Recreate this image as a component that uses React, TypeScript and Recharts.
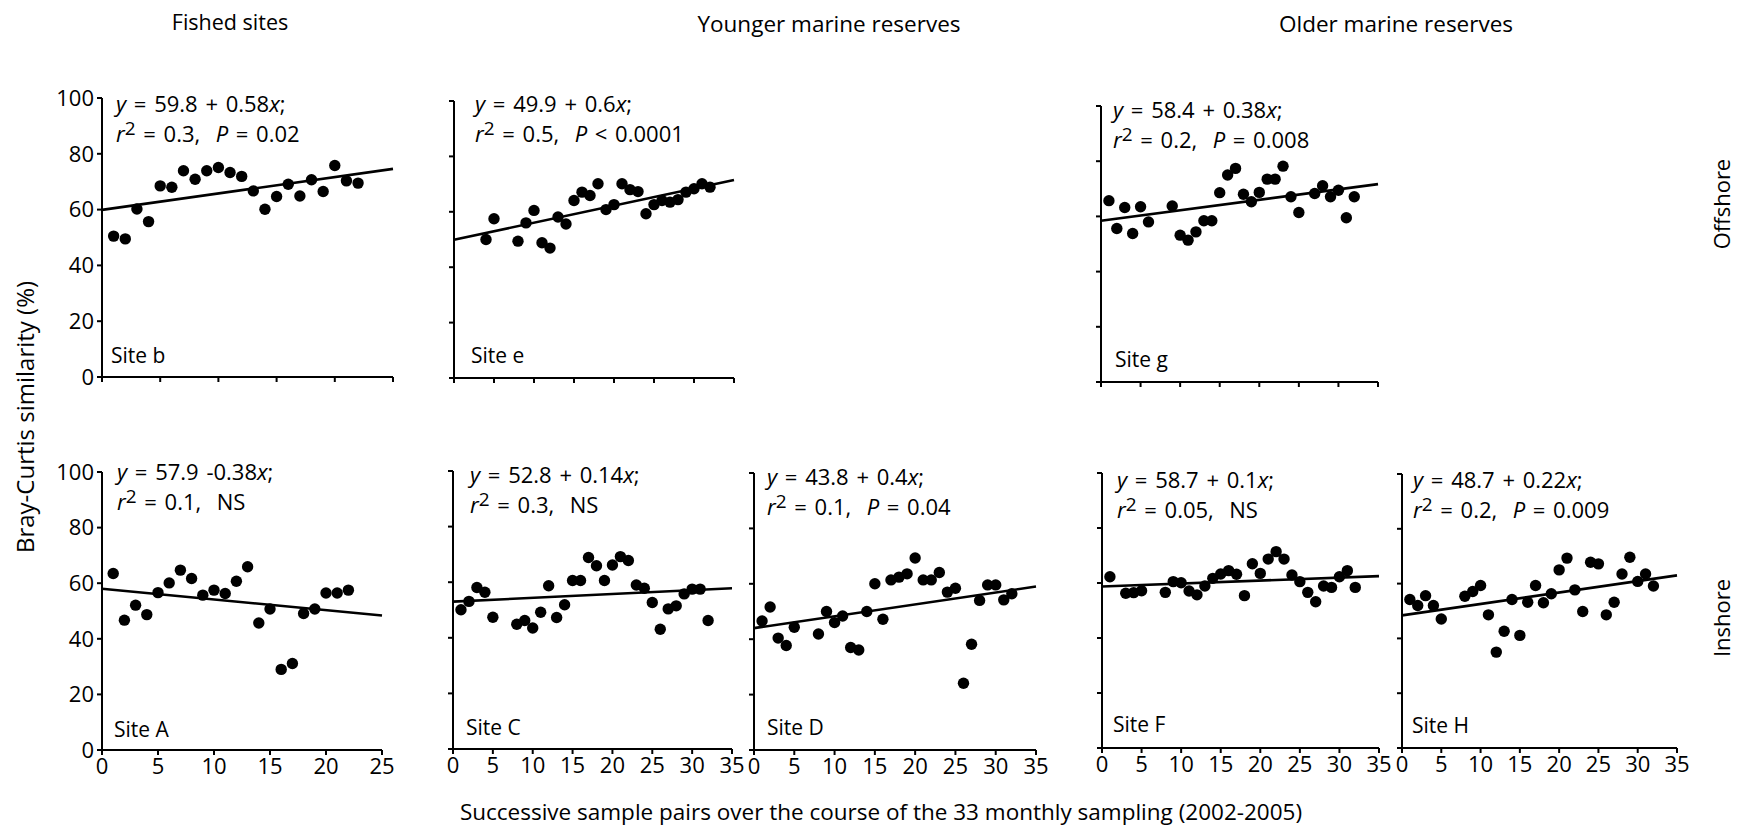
import React from "react";
import { ScatterChart, Scatter, XAxis, YAxis, ReferenceLine } from "recharts";

const FONT = "'Open Sans', 'Noto Sans', sans-serif";

// Offshore sites
const siteBX = [1, 2, 3, 4, 5, 6, 7, 8, 9, 10, 11, 12, 13, 14, 15, 16, 17, 18, 19, 20, 21, 22];
const siteBY = [50.5, 49.5, 60.2, 55.7, 68.5, 68.0, 73.9, 70.9, 73.9, 75.1, 73.3, 71.9, 66.7, 60.1, 64.7, 69.1, 64.9, 70.7, 66.5, 75.8, 70.3, 69.5];
const siteBFit = [59.9, 74.6];

const siteEX = [4, 5, 8, 9, 10, 11, 12, 13, 14, 15, 16, 17, 18, 19, 20, 21, 22, 23, 24, 25, 26, 27, 28, 29, 30, 31, 32];
const siteEY = [50.0, 57.5, 49.4, 56.0, 60.5, 48.8, 46.9, 58.1, 55.6, 64.1, 67.1, 65.9, 70.1, 60.8, 62.6, 70.1, 68.0, 67.3, 59.3, 62.6, 64.1, 63.5, 64.4, 67.1, 68.3, 70.1, 68.9];
const siteEFit = [49.9, 71.5];

const siteGX = [1, 2, 3, 4, 5, 6, 9, 10, 11, 12, 13, 14, 15, 16, 17, 18, 19, 20, 21, 22, 23, 24, 25, 27, 28, 29, 30, 31, 32];
const siteGY = [65.7, 55.6, 63.2, 53.8, 63.5, 58.0, 63.8, 53.2, 51.4, 54.4, 58.4, 58.4, 68.6, 75.0, 77.4, 68.0, 65.3, 68.7, 73.5, 73.5, 78.2, 67.1, 61.4, 68.3, 71.1, 67.1, 69.5, 59.5, 67.1];
const siteGFit = [58.4, 71.7];

// Inshore sites
const siteAX = [1, 2, 3, 4, 5, 6, 7, 8, 9, 10, 11, 12, 13, 14, 15, 16, 17, 18, 19, 20, 21, 22];
const siteAY = [63.5, 46.7, 52.1, 48.7, 56.6, 60.1, 64.7, 61.7, 55.7, 57.5, 56.3, 60.7, 65.9, 45.7, 50.7, 29.0, 31.1, 49.1, 50.7, 56.5, 56.5, 57.5];
const siteAFit = [58.0, 48.4];

const siteCX = [1, 2, 3, 4, 5, 8, 9, 10, 11, 12, 13, 14, 15, 16, 17, 18, 19, 20, 21, 22, 23, 24, 25, 26, 27, 28, 29, 30, 31, 32];
const siteCY = [50.1, 53.1, 58.1, 56.4, 47.4, 44.9, 46.2, 43.5, 49.2, 58.7, 47.3, 51.9, 60.6, 60.6, 68.9, 65.9, 60.6, 66.2, 69.2, 67.8, 59.0, 57.8, 52.7, 43.1, 50.4, 51.5, 55.8, 57.5, 57.5, 46.2];
const siteCFit = [53.0, 57.8];

const siteDX = [1, 2, 3, 4, 5, 8, 9, 10, 11, 12, 13, 14, 15, 16, 17, 18, 19, 20, 21, 22, 23, 24, 25, 26, 27, 28, 29, 30, 31, 32];
const siteDY = [46.6, 51.6, 40.4, 37.7, 44.3, 41.9, 50.0, 46.0, 48.4, 37.0, 36.1, 50.0, 60.0, 47.2, 61.4, 62.4, 63.6, 69.3, 61.4, 61.4, 64.1, 57.0, 58.4, 24.1, 38.2, 54.0, 59.6, 59.6, 54.2, 56.4];
const siteDFit = [44.0, 59.0];

const siteFX = [1, 3, 4, 5, 8, 9, 10, 11, 12, 13, 14, 15, 16, 17, 18, 19, 20, 21, 22, 23, 24, 25, 26, 27, 28, 29, 30, 31, 32];
const siteFY = [62.3, 56.3, 56.5, 57.2, 56.6, 60.5, 60.1, 57.1, 55.7, 58.9, 61.7, 63.3, 64.5, 63.2, 55.4, 67.0, 63.5, 68.7, 71.4, 68.7, 62.9, 60.5, 56.6, 53.2, 58.9, 58.4, 62.3, 64.5, 58.4];
const siteFFit = [58.7, 62.5];

const siteHX = [1, 2, 3, 4, 5, 8, 9, 10, 11, 12, 13, 14, 15, 16, 17, 18, 19, 20, 21, 22, 23, 24, 25, 26, 27, 28, 29, 30, 31, 32];
const siteHY = [54.2, 52.0, 55.6, 52.0, 47.1, 55.4, 57.1, 59.3, 48.6, 35.0, 42.6, 54.2, 41.1, 53.2, 59.3, 53.0, 56.3, 65.0, 69.3, 57.7, 49.8, 67.8, 67.2, 48.6, 53.2, 63.5, 69.6, 60.8, 63.5, 59.1];
const siteHFit = [48.4, 63.0];

const yTicks = [0, 20, 40, 60, 80, 100];
const xTicks25 = [0, 5, 10, 15, 20, 25];
const xTicks35 = [0, 5, 10, 15, 20, 25, 30, 35];

const titles = ["Fished sites", "Younger marine reserves", "Older marine reserves"];
const rowLabels = ["Offshore", "Inshore"];
const yTitle = "Bray-Curtis similarity (%)";
const xTitle = "Successive sample pairs over the course of the 33 monthly sampling (2002-2005)";

type Panel = {
  name: string;
  xs: number[];
  ys: number[];
  fit: number[];
  eq: string;
  r2: string;
  p: string | null;
  xTicks: number[];
  yLabels: boolean;
  xLabels: boolean;
  // plot-area placement
  x0: number;
  top: number;
  w: number;
  h: number;
  eqX: number;
  eqY: number;
  siteX: number;
  siteY: number;
};

const panels: Panel[] = [
  { name: "Site b", xs: siteBX, ys: siteBY, fit: siteBFit, eq: "59.8 + 0.58", r2: "0.3", p: "= 0.02", xTicks: xTicks25, yLabels: true, xLabels: false,
    x0: 102, top: 98, w: 291, h: 279, eqX: 116, eqY: 112, siteX: 111, siteY: 363 },
  { name: "Site e", xs: siteEX, ys: siteEY, fit: siteEFit, eq: "49.9 + 0.6", r2: "0.5", p: "< 0.0001", xTicks: xTicks35, yLabels: false, xLabels: false,
    x0: 454, top: 101, w: 280, h: 277, eqX: 475, eqY: 112, siteX: 471, siteY: 363 },
  { name: "Site g", xs: siteGX, ys: siteGY, fit: siteGFit, eq: "58.4 + 0.38", r2: "0.2", p: "= 0.008", xTicks: xTicks35, yLabels: false, xLabels: false,
    x0: 1101, top: 106, w: 277, h: 276, eqX: 1113, eqY: 118, siteX: 1115, siteY: 367 },
  { name: "Site A", xs: siteAX, ys: siteAY, fit: siteAFit, eq: "57.9 -0.38", r2: "0.1", p: null, xTicks: xTicks25, yLabels: true, xLabels: true,
    x0: 102, top: 472, w: 280, h: 278, eqX: 117, eqY: 480, siteX: 114, siteY: 737 },
  { name: "Site C", xs: siteCX, ys: siteCY, fit: siteCFit, eq: "52.8 + 0.14", r2: "0.3", p: null, xTicks: xTicks35, yLabels: false, xLabels: true,
    x0: 453, top: 471, w: 279, h: 278, eqX: 470, eqY: 483, siteX: 466, siteY: 735 },
  { name: "Site D", xs: siteDX, ys: siteDY, fit: siteDFit, eq: "43.8 + 0.4", r2: "0.1", p: "= 0.04", xTicks: xTicks35, yLabels: false, xLabels: true,
    x0: 754, top: 473, w: 282, h: 277, eqX: 767, eqY: 485, siteX: 767, siteY: 735 },
  { name: "Site F", xs: siteFX, ys: siteFY, fit: siteFFit, eq: "58.7 + 0.1", r2: "0.05", p: null, xTicks: xTicks35, yLabels: false, xLabels: true,
    x0: 1102, top: 473, w: 277, h: 275, eqX: 1117, eqY: 488, siteX: 1113, siteY: 732 },
  { name: "Site H", xs: siteHX, ys: siteHY, fit: siteHFit, eq: "48.7 + 0.22", r2: "0.2", p: "= 0.009", xTicks: xTicks35, yLabels: false, xLabels: true,
    x0: 1402, top: 474, w: 275, h: 274, eqX: 1413, eqY: 488, siteX: 1412, siteY: 733 },
];

const ML = 64;
const MT = 22;
const MR = 22;
const XH = 40;

const Dot = (props: any) => <circle cx={props.cx} cy={props.cy} r={5.7} fill="#000" />;

function PanelChart({ p }: { p: Panel }) {
  const data = p.xs.map((x, i) => ({ x, y: p.ys[i] }));
  const xMax = p.xTicks[p.xTicks.length - 1];
  const axisStyle = { stroke: "#000", strokeWidth: 2 };
  const tickStyle = { fill: "#000", fontSize: 22, fontFamily: FONT };
  return (
    <div style={{ position: "absolute", left: p.x0 - ML, top: p.top - MT }}>
      <ScatterChart width={ML + p.w + MR} height={MT + p.h + XH} margin={{ top: MT, right: MR, bottom: 0, left: 0 }}>
        <XAxis
          type="number"
          dataKey="x"
          domain={[0, xMax]}
          ticks={p.xTicks}
          interval={0}
          height={XH}
          axisLine={axisStyle}
          tickLine={axisStyle}
          tickSize={5}
          tickMargin={3}
          tick={tickStyle}
          tickFormatter={(v: number) => (p.xLabels ? String(v) : "")}
        />
        <YAxis
          type="number"
          dataKey="y"
          domain={[0, 100]}
          ticks={yTicks}
          interval={0}
          width={ML}
          axisLine={axisStyle}
          tickLine={axisStyle}
          tickSize={5}
          tickMargin={3}
          tick={tickStyle}
          tickFormatter={(v: number) => (p.yLabels ? String(v) : "")}
        />
        <ReferenceLine
          segment={[{ x: 0, y: p.fit[0] }, { x: xMax, y: p.fit[1] }]}
          stroke="#000"
          strokeWidth={2.6}
        />
        <Scatter data={data} fill="#000" shape={Dot} isAnimationActive={false} />
      </ScatterChart>
    </div>
  );
}

export default function App() {
  const textStyle: React.CSSProperties = { whiteSpace: "pre", wordSpacing: 2 };
  return (
    <div style={{ position: "absolute", left: 0, top: 0, width: 1745, height: 827, background: "#fff", fontFamily: FONT }}>
      {panels.map((p) => (
        <PanelChart key={p.name} p={p} />
      ))}
      <svg width={1745} height={827} style={{ position: "absolute", left: 0, top: 0, pointerEvents: "none" }} fontFamily={FONT} fill="#000">
        <text x={230} y={30} fontSize={21.5} textAnchor="middle">{titles[0]}</text>
        <text x={829} y={32} fontSize={22.5} textAnchor="middle">{titles[1]}</text>
        <text x={1396} y={32} fontSize={22.5} textAnchor="middle">{titles[2]}</text>
        <text x={24} y={417} fontSize={24} textAnchor="middle" dominantBaseline="central" transform="rotate(-90 24 417)">{yTitle}</text>
        <text x={1721} y={204} fontSize={22} textAnchor="middle" dominantBaseline="central" transform="rotate(-90 1721 204)">{rowLabels[0]}</text>
        <text x={1721} y={618} fontSize={22} textAnchor="middle" dominantBaseline="central" transform="rotate(-90 1721 618)">{rowLabels[1]}</text>
        <text x={881} y={820} fontSize={22.5} textAnchor="middle">{xTitle}</text>
        {panels.map((p) => (
          <g key={p.name} fontSize={22}>
            <text x={p.eqX} y={p.eqY} style={textStyle}>
              <tspan fontStyle="italic">y</tspan>
              <tspan>{" = " + p.eq}</tspan>
              <tspan fontStyle="italic">x</tspan>
              <tspan>;</tspan>
            </text>
            <text x={p.eqX} y={p.eqY + 30} style={textStyle}>
              <tspan fontStyle="italic">r</tspan>
              <tspan fontSize={19} dy={-7}>2</tspan>
              <tspan dy={7}>{" = " + p.r2 + ",  "}</tspan>
              {p.p ? <tspan fontStyle="italic">P</tspan> : null}
              <tspan>{p.p ? " " + p.p : "NS"}</tspan>
            </text>
            <text x={p.siteX} y={p.siteY} fontSize={21}>{p.name}</text>
          </g>
        ))}
      </svg>
    </div>
  );
}
